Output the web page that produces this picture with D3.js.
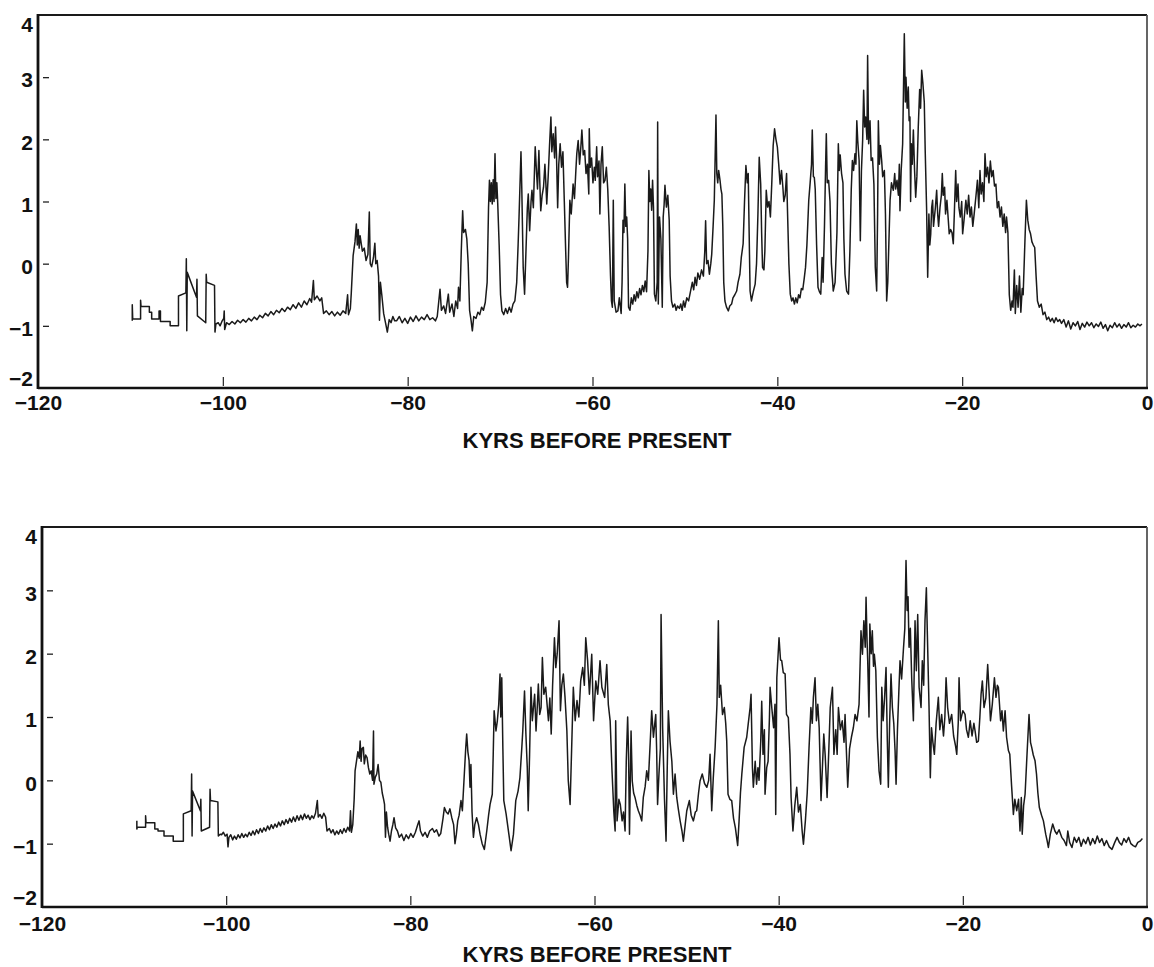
<!DOCTYPE html>
<html>
<head>
<meta charset="utf-8">
<script src="https://cdn.jsdelivr.net/npm/d3@7"></script>
<style>
  body { margin: 0; background: #fff; }
  svg { display: block; background: #fff; }
  .tick text, .axis-title {
    font-family: "Liberation Sans", Arial, Helvetica, sans-serif;
    font-weight: bold;
    fill: #111;
  }
</style>
</head>
<body>
<svg id="chart" width="1154" height="967"></svg>
<script>
// --- Data ---
const kyrTicks = [-120, -100, -80, -60, -40, -20, 0];
const valueTicks = [-2, -1, 0, 1, 2, 3, 4];
const axisTitle = "KYRS BEFORE PRESENT";

// upper record: [kyr, value]
const upperRecord = [
  [-109.8,-0.92],[-109.8,-0.66],[-109.75,-0.89],[-108.9,-0.89],[-108.9,-0.59],[-108.85,-0.69],[-107.95,-0.69],[-107.95,-0.78],[-107.7,-0.78],[-107.7,-0.89],[-106.9,-0.89],[-106.9,-0.76],[-106.75,-0.76],[-106.75,-0.93],[-105.7,-0.93],[-105.7,-1.0],[-104.8,-1.0],[-104.8,-0.52],[-104.0,-0.47],[-103.95,0.08],[-103.9,-1.08],[-103.85,-0.14],[-102.85,-0.54],[-102.8,-0.25],[-102.75,-0.84],[-101.85,-0.95],[-101.8,-0.17],[-101.75,-0.3],[-100.9,-0.35],[-100.85,-1.1],[-100.75,-0.97],
  [-100.5,-0.95],[-100.3,-1.0],[-100.1,-0.93],[-99.9,-0.88],[-99.85,-0.76],[-99.8,-1.06],[-99.6,-0.95],[-99.3,-0.98],[-99.0,-0.93],[-98.7,-0.97],[-98.4,-0.91],[-98.1,-0.95],[-97.8,-0.9],[-97.5,-0.94],[-97.2,-0.88],[-96.9,-0.92],[-96.6,-0.86],[-96.3,-0.9],[-96.0,-0.83],[-95.7,-0.87],[-95.4,-0.8],[-95.1,-0.84],[-94.8,-0.77],[-94.5,-0.82],[-94.2,-0.75],[-93.9,-0.79],[-93.6,-0.72],[-93.3,-0.77],[-93.0,-0.7],[-92.7,-0.74],[-92.4,-0.66],[-92.1,-0.72],[-91.8,-0.63],[-91.5,-0.7],[-91.2,-0.6],[-90.9,-0.66],[-90.6,-0.56],[-90.4,-0.62],[-90.2,-0.27],[-90.1,-0.58],[-89.8,-0.52],[-89.5,-0.6],[-89.3,-0.55],[-89.1,-0.8],[-88.8,-0.76],[-88.5,-0.82],[-88.2,-0.77],[-87.9,-0.84],[-87.6,-0.78],[-87.3,-0.83],[-87.0,-0.76],[-86.7,-0.8],[-86.5,-0.5],[-86.4,-0.82],[-86.2,-0.72],
  [-86.1,-0.47],[-85.9,0.13],[-85.7,0.35],[-85.55,0.64],[-85.45,0.3],[-85.35,0.55],[-85.25,0.25],[-85.15,0.45],[-85.0,0.3],[-84.9,0.2],[-84.7,0.25],[-84.5,0.05],[-84.3,0.15],[-84.15,0.83],[-84.05,0.0],[-83.9,-0.05],[-83.7,0.1],[-83.55,0.33],[-83.45,0.0],[-83.3,0.05],[-83.15,-0.2],[-83.05,-0.91],[-82.95,-0.3],[-82.8,-0.5],[-82.6,-0.8],[-82.4,-0.95],[-82.2,-1.1],[-82.0,-0.9],[-81.8,-0.95],[-81.6,-0.85],[-81.4,-0.92],
  [-81.2,-0.92],[-80.9,-0.85],[-80.6,-0.95],[-80.3,-0.88],[-80.0,-0.96],[-79.7,-0.86],[-79.4,-0.93],[-79.1,-0.84],[-78.8,-0.92],[-78.5,-0.86],[-78.2,-0.9],[-77.9,-0.82],[-77.6,-0.9],[-77.3,-0.87],[-77.0,-0.92],[-76.8,-0.85],
  [-76.5,-0.41],[-76.35,-0.75],[-76.1,-0.68],[-75.9,-0.8],[-75.6,-0.49],[-75.45,-0.78],[-75.2,-0.65],[-75.0,-0.85],[-74.8,-0.6],[-74.6,-0.72],[-74.5,-0.38],[-74.35,-0.6],
  [-74.2,0.2],[-74.05,0.85],[-73.95,0.5],[-73.75,0.55],[-73.6,0.4],[-73.45,0.0],[-73.3,-0.75],[-73.15,-0.9],[-73.0,-1.08],[-72.85,-0.85],
  [-72.6,-0.88],[-72.4,-0.78],[-72.2,-0.82],[-72.0,-0.7],[-71.8,-0.75],[-71.6,-0.62],
  [-71.4,-0.3],[-71.25,0.9],[-71.15,1.34],[-71.05,1.0],[-70.95,1.3],[-70.85,0.96],[-70.75,1.35],[-70.65,1.0],[-70.55,1.77],[-70.45,1.05],[-70.35,1.3],[-70.25,0.95],
  [-70.1,0.3],[-69.95,-0.5],[-69.8,-0.76],[-69.6,-0.82],[-69.4,-0.72],[-69.2,-0.8],[-69.0,-0.7],[-68.8,-0.78],[-68.6,-0.65],[-68.4,-0.6],
  [-68.2,-0.3],[-68.05,0.3],[-67.95,0.75],[-67.8,1.5],[-67.74,1.8],[-67.65,1.2],[-67.5,-0.06],[-67.35,-0.49],
  [-67.2,0.2],[-67.05,0.9],[-66.95,1.12],[-66.8,0.53],[-66.65,1.0],[-66.55,1.18],[-66.4,0.9],[-66.3,1.39],[-66.2,1.88],[-66.05,1.45],[-65.95,1.2],[-65.8,1.82],[-65.7,1.3],[-65.6,0.85],[-65.45,1.1],[-65.3,1.23],[-65.15,1.6],[-65.05,1.3],[-64.95,0.96],[-64.8,1.39],
  [-64.65,1.9],[-64.5,2.36],[-64.4,1.8],[-64.25,2.09],[-64.1,1.7],[-64.0,2.2],[-63.9,1.77],[-63.77,0.9],[-63.65,1.6],[-63.5,1.93],[-63.35,1.55],[-63.2,1.8],
  [-63.05,1.0],[-62.9,0.2],[-62.8,-0.3],[-62.7,-0.38],[-62.6,0.1],[-62.45,1.02],[-62.3,0.8],[-62.1,1.28],[-61.95,1.05],[-61.8,1.5],[-61.7,1.77],[-61.55,1.98],[-61.4,1.6],[-61.25,1.9],[-61.15,2.15],[-61.0,1.75],[-60.85,1.82],[-60.7,1.45],[-60.55,1.6],[-60.4,1.12],[-60.35,2.17],[-60.25,1.55],[-60.1,1.7],[-59.95,1.3],[-59.8,1.55],[-59.7,1.34],[-59.55,1.88],[-59.45,1.4],[-59.3,1.65],[-59.2,0.8],[-59.08,1.6],[-58.94,1.88],[-58.8,1.3],[-58.65,1.34],[-58.5,1.55],[-58.35,1.2],
  [-58.2,0.6],[-58.05,-0.2],[-57.95,-0.6],[-57.85,-0.7],[-57.75,1.02],[-57.65,-0.6],[-57.45,-0.78],[-57.25,-0.76],[-57.1,-0.55],
  [-56.9,-0.8],[-56.8,-0.3],[-56.7,0.7],[-56.6,0.5],[-56.5,1.28],[-56.4,0.6],[-56.3,0.75],[-56.2,0.4],[-56.1,-0.7],
  [-55.95,-0.75],[-55.8,-0.55],[-55.65,-0.65],[-55.5,-0.5],[-55.35,-0.6],[-55.2,-0.45],[-55.05,-0.55],[-54.9,-0.4],[-54.75,-0.5],[-54.6,-0.35],[-54.45,-0.45],[-54.3,-0.28],[-54.15,-0.45],
  [-54.0,0.2],[-53.9,1.5],[-53.8,1.0],[-53.7,1.2],[-53.6,0.86],[-53.5,1.34],[-53.4,0.9],[-53.3,-0.49],[-53.15,-0.6],[-53.0,-0.3],[-52.95,2.28],[-52.88,-0.65],[-52.75,0.75],[-52.6,0.4],[-52.45,-0.7],[-52.35,0.75],[-52.25,0.95],[-52.16,1.26],[-52.0,0.91],[-51.85,1.1],[-51.7,0.7],[-51.6,-0.2],[-51.45,-0.6],
  [-51.3,-0.7],[-51.1,-0.65],[-50.95,-0.75],[-50.8,-0.68],[-50.6,-0.72],[-50.45,-0.65],[-50.3,-0.75],[-50.15,-0.6],[-50.0,-0.7],[-49.8,-0.55],[-49.6,-0.6],
  [-49.4,-0.45],[-49.2,-0.3],[-49.05,-0.42],[-48.9,-0.22],[-48.75,-0.35],[-48.6,-0.15],[-48.4,-0.25],[-48.2,-0.1],[-48.0,-0.2],[-47.85,0.2],[-47.76,0.69],[-47.65,0.0],[-47.5,0.05],[-47.35,-0.17],[-47.2,0.0],[-47.1,0.15],
  [-46.95,0.6],[-46.82,1.02],[-46.64,2.39],[-46.55,1.45],[-46.45,1.3],[-46.35,1.5],[-46.2,1.34],[-46.1,1.2],[-46.0,1.12],[-45.9,0.6],[-45.8,-0.3],[-45.67,-0.6],[-45.5,-0.7],[-45.3,-0.76],[-45.15,-0.68],[-44.95,-0.65],[-44.8,-0.55],[-44.6,-0.5],[-44.4,-0.44],[-44.25,-0.3],[-44.05,-0.17],
  [-43.9,0.1],[-43.7,0.32],[-43.55,1.0],[-43.4,1.58],[-43.25,1.3],[-43.15,1.45],[-43.05,0.5],[-42.95,-0.44],[-42.8,-0.6],[-42.6,-0.45],[-42.4,-0.33],[-42.25,0.0],
  [-42.1,0.8],[-41.96,1.71],[-41.8,1.28],[-41.7,0.5],[-41.6,-0.06],[-41.45,-0.1],[-41.35,0.2],[-41.2,1.18],[-41.05,0.91],[-40.9,1.0],[-40.75,0.75],[-40.6,1.3],[-40.45,1.9],[-40.3,2.17],[-40.15,2.0],[-40.0,1.88],[-39.85,1.6],[-39.7,1.28],[-39.55,1.5],[-39.4,1.23],[-39.3,1.0],[-39.15,1.1],[-39.0,1.45],[-38.9,0.85],
  [-38.75,0.0],[-38.6,-0.49],[-38.45,-0.6],[-38.3,-0.55],[-38.15,-0.65],[-38.0,-0.55],[-37.85,-0.63],[-37.7,-0.5],[-37.55,-0.55],[-37.4,-0.4],[-37.25,-0.42],[-37.1,-0.25],[-36.95,-0.06],
  [-36.8,0.3],[-36.6,1.02],[-36.45,1.3],[-36.3,1.6],[-36.22,2.15],[-36.1,1.4],[-36.0,1.39],[-35.9,1.2],
  [-35.75,0.3],[-35.6,-0.38],[-35.45,-0.45],[-35.3,-0.49],[-35.15,0.1],[-35.05,-0.3],
  [-34.9,0.6],[-34.78,1.55],[-34.7,2.09],[-34.6,1.3],[-34.45,1.34],[-34.3,1.0],[-34.15,0.0],[-33.95,-0.44],[-33.75,-0.3],
  [-33.55,0.5],[-33.4,1.93],[-33.3,1.5],[-33.2,1.75],[-33.05,1.45],[-32.9,1.3],[-32.8,0.4],[-32.68,-0.17],[-32.5,-0.44],[-32.3,-0.49],
  [-32.15,0.2],[-32.0,1.2],[-31.88,1.66],[-31.75,1.5],[-31.6,1.77],[-31.5,1.6],[-31.4,2.3],[-31.3,1.98],[-31.15,1.66],[-31.02,0.37],
  [-30.9,1.5],[-30.77,1.98],[-30.66,2.79],[-30.55,2.2],[-30.44,2.36],[-30.3,2.0],[-30.23,3.35],[-30.12,1.93],[-29.97,2.3],[-29.85,1.66],
  [-29.7,1.7],[-29.55,1.28],[-29.4,-0.06],[-29.25,-0.44],
  [-29.15,0.8],[-29.07,2.3],[-28.95,1.6],[-28.85,1.9],[-28.71,1.66],[-28.6,1.4],[-28.42,1.5],
  [-28.3,0.8],[-28.17,-0.6],[-28.05,-0.3],
  [-27.9,0.5],[-27.8,1.02],[-27.65,1.3],[-27.45,1.18],[-27.3,1.45],[-27.2,1.2],[-27.05,1.34],[-26.9,1.1],[-26.8,1.6],[-26.73,0.85],
  [-26.6,1.5],[-26.44,1.93],[-26.35,2.8],[-26.26,3.7],[-26.15,2.6],[-26.08,3.0],[-25.95,2.5],[-25.83,2.84],[-25.74,2.3],[-25.65,2.36],[-25.58,1.0],[-25.5,1.93],[-25.4,1.6],[-25.28,2.15],[-25.15,1.5],[-25.03,1.07],
  [-24.9,1.4],[-24.75,2.2],[-24.6,2.8],[-24.5,2.5],[-24.38,3.11],[-24.25,2.9],[-24.1,2.6],[-24.0,1.82],[-23.85,0.9],[-23.73,-0.22],
  [-23.6,0.8],[-23.5,0.3],[-23.4,0.48],[-23.3,0.9],[-23.2,1.02],[-23.1,0.6],[-23.0,0.75],[-22.9,0.9],[-22.76,1.18],[-22.65,0.8],[-22.55,0.6],[-22.4,0.9],[-22.25,1.1],[-22.15,1.45],[-22.05,1.1],[-21.9,1.23],[-21.8,0.8],[-21.65,1.02],[-21.5,0.7],[-21.4,0.48],[-21.25,0.55],[-21.1,0.5],[-20.96,0.32],
  [-20.85,0.8],[-20.7,1.5],[-20.6,1.0],[-20.45,1.28],[-20.35,0.9],[-20.2,0.75],[-20.05,1.0],[-19.95,0.48],[-19.8,0.7],[-19.6,1.02],[-19.45,0.8],[-19.3,1.1],[-19.15,0.75],[-19.0,0.91],[-18.85,0.6],[-18.7,0.8],
  [-18.5,1.1],[-18.35,1.34],[-18.2,0.9],[-18.07,1.5],[-17.95,1.12],[-17.8,1.3],[-17.65,1.0],[-17.53,1.77],[-17.4,1.4],[-17.25,1.55],[-17.1,1.3],[-16.95,1.65],[-16.8,1.4],[-16.65,1.5],[-16.5,1.25],
  [-16.35,1.28],[-16.2,0.9],[-16.05,1.0],[-15.9,0.75],[-15.75,0.91],[-15.6,0.6],[-15.45,0.8],[-15.3,0.5],[-15.2,0.75],[-15.05,0.5],
  [-14.9,-0.5],[-14.75,-0.75],[-14.6,-0.6],[-14.5,-0.7],[-14.35,-0.1],[-14.25,-0.8],[-14.1,-0.35],[-13.95,-0.7],[-13.8,-0.2],[-13.65,-0.78],[-13.5,-0.4],[-13.4,-0.5],
  [-13.2,0.4],[-13.05,1.02],[-12.9,0.7],[-12.75,0.55],[-12.6,0.48],[-12.45,0.35],[-12.3,0.3],[-12.15,0.26],
  [-12.0,-0.2],[-11.85,-0.6],[-11.65,-0.7],[-11.45,-0.65],[-11.25,-0.82],[-11.05,-0.78],[-10.85,-0.9],[-10.65,-0.86],[-10.45,-0.93],[-10.25,-0.88],[-10.05,-0.95],[-9.85,-0.87],[-9.65,-0.93],[-9.45,-0.9],[-9.25,-0.96],
  [-9.0,-0.9],[-8.75,-1.02],[-8.5,-0.92],[-8.25,-1.05],[-8.0,-0.95],[-7.75,-1.0],[-7.5,-0.93],[-7.25,-1.06],[-7.0,-0.96],[-6.75,-1.02],[-6.5,-0.94],[-6.25,-1.0],[-6.0,-0.95],[-5.75,-1.03],[-5.5,-0.97],[-5.25,-1.01],[-5.0,-0.94],[-4.75,-1.04],[-4.5,-0.98],[-4.25,-1.08],[-4.0,-0.99],[-3.75,-1.03],[-3.5,-0.95],[-3.25,-1.02],[-3.0,-0.97],[-2.75,-1.04],[-2.5,-0.98],[-2.25,-1.02],[-2.0,-0.95],[-1.75,-1.03],[-1.5,-0.99],[-1.25,-1.02],[-1.0,-0.97],[-0.75,-1.0],[-0.55,-0.97]
];

// lower record: [kyr, value]
const lowerRecord = [
  [-109.7,-0.64],[-109.7,-0.77],[-109.65,-0.74],[-108.75,-0.74],[-108.75,-0.56],[-108.7,-0.67],[-107.75,-0.67],[-107.75,-0.77],[-107.4,-0.77],[-107.4,-0.8],[-106.75,-0.8],[-106.75,-0.88],[-105.75,-0.88],[-105.75,-0.96],[-104.65,-0.96],[-104.65,-0.53],[-103.8,-0.48],[-103.75,0.1],[-103.7,-0.88],[-103.65,-0.17],[-102.8,-0.48],[-102.75,-0.3],[-102.7,-0.8],[-101.8,-0.74],[-101.75,-0.14],[-101.7,-0.32],[-100.9,-0.34],[-100.85,-0.88],[-100.65,-0.85],
  [-100.5,-0.86],[-100.3,-0.82],[-100.1,-0.88],[-99.9,-0.85],[-99.8,-1.05],[-99.7,-0.9],[-99.5,-0.86],[-99.3,-0.94],[-99.1,-0.88],[-98.9,-0.93],[-98.7,-0.86],[-98.5,-0.91],[-98.3,-0.84],[-98.1,-0.9],[-97.9,-0.85],[-97.7,-0.89],[-97.5,-0.82],[-97.3,-0.87],[-97.1,-0.8],[-96.9,-0.86],[-96.7,-0.78],[-96.5,-0.84],[-96.3,-0.76],[-96.1,-0.82],[-95.9,-0.75],[-95.7,-0.8],[-95.5,-0.72],[-95.3,-0.78],[-95.1,-0.7],[-94.9,-0.76],[-94.7,-0.69],[-94.5,-0.74],[-94.3,-0.66],[-94.1,-0.72],[-93.9,-0.64],[-93.7,-0.7],[-93.5,-0.62],[-93.3,-0.68],[-93.1,-0.6],[-92.9,-0.66],[-92.7,-0.58],[-92.5,-0.65],[-92.3,-0.56],[-92.1,-0.63],[-91.9,-0.55],[-91.7,-0.62],[-91.5,-0.53],[-91.3,-0.6],[-91.1,-0.55],[-90.9,-0.62],[-90.7,-0.56],[-90.5,-0.6],[-90.3,-0.52],[-90.1,-0.32],[-90.0,-0.58],[-89.8,-0.54],[-89.6,-0.6],[-89.4,-0.52],[-89.2,-0.58],[-89.05,-0.8],[-88.8,-0.76],[-88.6,-0.83],[-88.4,-0.78],[-88.2,-0.86],[-88.0,-0.8],[-87.8,-0.85],[-87.6,-0.78],[-87.4,-0.84],[-87.2,-0.76],[-87.0,-0.82],[-86.8,-0.74],[-86.6,-0.8],[-86.5,-0.48],[-86.4,-0.82],[-86.25,-0.7],
  [-86.1,-0.3],[-86.0,0.15],[-85.85,0.3],[-85.7,0.45],[-85.55,0.35],[-85.45,0.62],[-85.35,0.3],[-85.25,0.5],[-85.1,0.52],[-85.0,0.26],[-84.85,0.4],[-84.7,0.36],[-84.55,0.2],[-84.4,0.1],[-84.25,0.15],[-84.1,0.0],[-84.0,0.78],[-83.95,-0.06],[-83.8,0.05],[-83.65,0.1],[-83.5,0.25],[-83.35,0.0],[-83.2,-0.03],[-83.05,-0.2],[-82.9,-0.3],[-82.8,-0.38],[-82.7,-0.9],[-82.6,-0.5],[-82.47,-0.74],[-82.35,-0.85],[-82.2,-0.96],[-82.05,-0.8],[-81.9,-0.7],[-81.77,-0.59],[-81.6,-0.75],[-81.4,-0.8],
  [-81.2,-0.9],[-80.95,-0.85],[-80.7,-0.95],[-80.45,-0.86],[-80.2,-0.92],[-79.95,-0.84],[-79.7,-0.9],[-79.45,-0.82],[-79.2,-0.7],[-79.05,-0.64],[-78.9,-0.8],[-78.65,-0.88],[-78.4,-0.82],[-78.15,-0.9],[-77.9,-0.8],[-77.6,-0.76],[-77.4,-0.82],[-77.15,-0.78],[-76.9,-0.88],[-76.7,-0.84],
  [-76.45,-0.6],[-76.3,-0.43],[-76.1,-0.5],[-75.9,-0.53],[-75.7,-0.45],[-75.5,-0.59],[-75.3,-0.7],[-75.15,-1.0],[-75.0,-0.85],[-74.85,-0.64],[-74.7,-0.55],[-74.5,-0.32],[-74.35,-0.48],
  [-74.1,0.2],[-73.98,0.52],[-73.88,0.73],[-73.75,0.45],[-73.62,0.31],[-73.52,-0.11],[-73.42,0.25],
  [-73.3,-0.5],[-73.15,-0.9],[-73.0,-0.7],[-72.8,-0.59],[-72.6,-0.7],[-72.43,-0.85],[-72.2,-1.0],[-71.96,-1.09],[-71.7,-0.8],[-71.5,-0.55],[-71.34,-0.38],[-71.1,-0.22],
  [-71.0,0.4],[-70.9,1.1],[-70.7,0.78],[-70.55,0.94],[-70.4,1.2],[-70.26,1.68],[-70.18,1.0],[-70.07,1.62],
  [-69.95,0.5],[-69.85,-0.32],[-69.6,-0.53],[-69.3,-0.85],[-69.06,-1.11],[-68.8,-0.85],[-68.55,-0.32],[-68.3,-0.17],[-68.1,0.04],
  [-67.9,0.5],[-67.79,0.78],[-67.6,1.41],[-67.45,0.73],[-67.3,0.2],[-67.2,-0.48],
  [-67.05,0.4],[-66.9,1.47],[-66.75,0.94],[-66.6,1.2],[-66.5,1.36],[-66.35,0.78],[-66.2,1.2],[-66.1,1.52],[-65.95,1.04],[-65.8,1.15],[-65.66,1.94],[-65.5,1.36],[-65.3,1.47],[-65.15,1.2],[-65.0,0.94],[-64.85,1.3],[-64.7,0.73],
  [-64.55,1.5],[-64.35,2.25],[-64.2,1.78],[-64.05,2.0],[-63.85,2.52],[-63.7,1.1],[-63.55,1.5],[-63.38,1.68],[-63.2,1.31],[-63.0,0.78],
  [-62.85,0.0],[-62.65,-0.38],[-62.5,0.41],[-62.3,1.47],[-62.1,0.94],[-61.9,1.26],[-61.7,1.0],[-61.5,1.57],[-61.28,1.78],[-61.1,1.5],[-60.95,2.25],[-60.75,1.89],[-60.55,1.36],[-60.3,1.99],[-60.1,0.94],[-59.86,1.57],[-59.65,1.36],[-59.4,1.89],[-59.2,1.47],[-58.9,1.31],[-58.67,1.83],
  [-58.5,1.2],[-58.3,0.94],[-58.1,0.15],[-57.9,-0.5],[-57.76,-0.8],
  [-57.7,0.94],[-57.55,-0.64],[-57.35,-0.3],[-57.2,-0.38],[-57.0,-0.64],[-56.85,-0.5],[-56.68,-0.8],[-56.55,0.3],[-56.4,1.0],[-56.3,0.41],[-56.2,-0.85],[-56.03,0.78],[-55.9,-0.01],[-55.75,-0.2],[-55.6,-0.27],[-55.4,-0.4],[-55.24,-0.48],[-55.05,-0.55],[-54.87,-0.64],[-54.7,-0.27],[-54.5,-0.1],[-54.33,0.15],[-54.15,0.0],
  [-53.95,0.6],[-53.79,1.1],[-53.6,0.68],[-53.45,0.9],[-53.35,1.04],[-53.25,0.47],[-53.15,-0.38],[-53.0,0.1],
  [-52.85,0.5],[-52.77,2.62],[-52.6,0.83],[-52.4,-0.3],[-52.23,-0.96],[-52.1,0.2],[-51.98,1.1],[-51.8,0.62],[-51.6,0.3],[-51.43,-0.22],[-51.25,0.1],[-51.07,-0.27],[-50.9,-0.45],[-50.7,-0.64],[-50.5,-0.8],[-50.35,-0.96],[-50.15,-0.7],[-49.98,-0.48],[-49.7,-0.32],[-49.5,-0.55],[-49.26,-0.64],[-49.05,-0.5],[-48.9,-0.48],[-48.7,-0.2],[-48.54,-0.01],[-48.3,0.1],[-48.05,-0.05],[-47.8,-0.11],[-47.6,0.0],[-47.45,0.41],[-47.27,-0.48],[-47.1,0.04],[-46.9,0.52],
  [-46.7,1.2],[-46.55,2.52],[-46.45,1.31],[-46.3,1.5],[-46.1,1.04],[-45.9,1.15],[-45.75,0.9],[-45.64,0.62],[-45.5,-0.22],[-45.3,-0.3],[-45.1,-0.32],[-44.9,-0.6],[-44.7,-0.75],[-44.45,-1.03],[-44.3,-0.64],[-44.15,-0.2],[-44.0,0.1],[-43.75,0.52],[-43.47,0.68],[-43.3,0.9],[-43.1,1.15],[-43.0,1.36],
  [-42.85,0.2],[-42.75,-0.11],[-42.55,0.3],[-42.4,-0.06],[-42.25,0.2],[-42.13,0.0],[-41.95,0.6],[-41.84,1.25],[-41.7,0.41],[-41.55,0.8],[-41.48,-0.22],[-41.3,0.2],[-41.15,0.3],[-41.0,1.0],[-40.93,1.47],[-40.75,1.15],[-40.55,0.83],[-40.4,1.2],[-40.32,-0.54],[-40.2,1.62],[-39.96,2.25],[-39.8,1.9],[-39.67,1.89],[-39.5,1.7],[-39.3,1.68],[-39.15,1.04],[-38.95,0.99],[-38.77,0.41],
  [-38.65,-0.27],[-38.45,-0.8],[-38.25,-0.4],[-38.04,-0.11],[-37.85,-0.5],[-37.65,-0.38],[-37.45,-0.8],[-37.31,-1.01],[-37.1,-0.64],[-36.9,-0.2],[-36.7,0.52],[-36.5,1.15],[-36.35,0.9],[-36.23,1.31],[-36.05,1.62],[-35.9,0.94],[-35.75,1.2],[-35.6,0.83],[-35.4,-0.32],[-35.25,0.2],[-35.1,0.73],[-34.95,0.4],[-34.74,-0.27],[-34.55,0.5],[-34.4,1.15],[-34.16,1.47],[-34.0,0.41],[-33.8,0.8],[-33.65,0.41],[-33.51,1.15],[-33.3,0.8],[-33.1,0.94],[-32.9,0.6],[-32.79,1.04],
  [-32.5,-0.11],[-32.3,0.5],[-32.1,0.68],[-31.89,0.83],[-31.7,1.04],[-31.5,0.94],[-31.27,1.2],[-31.06,2.36],[-30.9,1.99],[-30.75,2.52],[-30.6,2.1],[-30.51,2.89],[-30.4,2.2],[-30.33,1.89],[-30.19,1.0],[-30.1,2.47],[-29.95,2.0],[-29.83,2.36],[-29.7,1.8],[-29.61,1.99],[-29.45,1.73],[-29.28,0.68],[-29.1,0.15],[-28.92,-0.06],[-28.8,1.47],[-28.65,0.94],[-28.5,1.3],[-28.34,1.78],[-28.2,0.62],[-28.09,-0.11],[-27.95,0.9],[-27.8,1.68],[-27.65,1.15],[-27.5,0.9],[-27.36,0.47],[-27.25,-0.06],[-27.1,0.8],[-26.95,1.4],[-26.82,1.89],[-26.65,1.6],[-26.46,2.05],[-26.3,2.4],[-26.17,3.47],[-26.05,2.68],[-25.95,2.9],[-25.84,2.1],[-25.7,2.4],[-25.55,1.6],[-25.37,0.94],[-25.19,2.52],[-25.05,1.73],[-24.9,2.62],[-24.75,1.47],[-24.54,1.15],[-24.4,1.89],[-24.25,1.5],[-24.11,2.52],[-23.96,3.04],[-23.85,2.3],[-23.67,1.15],[-23.53,0.04],[-23.4,0.83],[-23.25,0.6],[-23.09,0.41],[-22.9,0.9],[-22.66,1.31],[-22.5,0.8],[-22.3,1.04],[-22.1,0.7],[-21.95,1.0],[-21.82,1.62],[-21.65,1.15],[-21.45,0.9],[-21.21,1.04],[-21.0,0.7],[-20.8,0.55],[-20.66,0.41],[-20.5,0.9],[-20.41,1.62],[-20.25,0.94],[-20.0,1.1],[-19.76,1.04],[-19.6,0.8],[-19.4,0.68],[-19.2,0.94],[-19.0,0.7],[-18.8,0.9],[-18.67,0.78],[-18.5,0.6],[-18.31,0.62],[-18.15,1.0],[-18.02,1.36],[-17.88,1.57],[-17.7,1.15],[-17.5,1.3],[-17.3,1.83],[-17.15,1.41],[-17.0,0.94],[-16.8,1.2],[-16.57,1.62],[-16.4,1.31],[-16.25,1.5],[-16.14,1.47],[-15.9,0.94],[-15.75,1.1],[-15.6,0.78],[-15.41,1.1],[-15.25,0.68],[-15.05,0.47],[-14.9,0.41],[-14.7,-0.1],[-14.51,-0.54],[-14.35,-0.3],[-14.15,-0.48],[-13.95,-0.3],[-13.79,-0.8],[-13.65,-0.27],[-13.55,-0.85],[-13.4,-0.4],[-13.24,-0.22],[-13.0,0.5],[-12.81,1.04],[-12.65,0.6],[-12.52,0.52],[-12.35,0.4],[-12.16,0.31],[-12.0,0.1],[-11.85,-0.2],[-11.69,-0.43],[-11.45,-0.55],[-11.25,-0.64],[-11.0,-0.85],[-10.85,-0.95],[-10.71,-1.06],[-10.5,-0.85],[-10.24,-0.69],[-10.0,-0.8],[-9.8,-0.85],[-9.55,-0.78],[-9.26,-0.9],
  [-9.0,-0.95],[-8.75,-1.03],[-8.6,-0.8],[-8.4,-0.98],[-8.15,-1.06],[-7.9,-0.9],[-7.65,-0.98],[-7.4,-0.9],[-7.15,-1.04],[-6.9,-0.93],[-6.65,-1.0],[-6.4,-0.9],[-6.15,-1.02],[-5.9,-0.92],[-5.65,-1.0],[-5.4,-0.88],[-5.15,-0.98],[-4.9,-0.92],[-4.65,-1.03],[-4.4,-0.95],[-4.1,-1.05],[-3.8,-1.09],[-3.5,-0.98],[-3.25,-0.9],[-3.0,-0.98],[-2.75,-1.02],[-2.5,-0.92],[-2.25,-0.98],[-2.0,-0.9],[-1.75,-1.0],[-1.5,-1.03],[-1.25,-1.05],[-1.0,-0.98],[-0.75,-0.96],[-0.5,-0.92]
];

// --- Layout ---
const svg = d3.select("#chart");
const panels = [
  { data: upperRecord, left: 38, right: 1147, top: 15, bottom: 388, labelPad: 7, titleY: 448 },
  { data: lowerRecord, left: 42, right: 1147, top: 527, bottom: 907, labelPad: 9, titleY: 962 }
];
const intFormat = d3.format("d");

function drawPanel(p) {
  const x = d3.scaleLinear().domain([-120, 0]).range([p.left, p.right]);
  const y = d3.scaleLinear().domain([-2, 4]).range([p.bottom, p.top]);
  const g = svg.append("g");

  // the record itself
  const line = d3.line().x(d => x(d[0])).y(d => y(d[1]));
  g.append("path")
    .datum(p.data)
    .attr("d", line)
    .attr("fill", "none")
    .attr("stroke", "#1a1a1a")
    .attr("stroke-width", 1.5)
    .attr("stroke-linejoin", "round");

  // bottom axis, inward ticks
  const xAxis = g.append("g")
    .attr("transform", `translate(0,${p.bottom})`)
    .call(d3.axisBottom(x).tickValues(kyrTicks).tickFormat(intFormat)
      .tickSizeInner(-9).tickSizeOuter(0).tickPadding(p.labelPad));
  xAxis.select(".domain").remove();
  xAxis.selectAll(".tick line").attr("y1", -2).attr("y2", -11).attr("stroke", "#222").attr("stroke-width", 1.2);
  xAxis.selectAll(".tick").filter(d => d === -120 || d === 0).select("line").remove();
  xAxis.selectAll(".tick text").style("font-size", "21px");

  // left axis, short inward ticks
  const yAxis = g.append("g")
    .attr("transform", `translate(${p.left},0)`)
    .call(d3.axisLeft(y).tickValues(valueTicks).tickFormat(intFormat)
      .tickSizeInner(-10).tickSizeOuter(0).tickPadding(5));
  yAxis.select(".domain").remove();
  yAxis.selectAll(".tick line").attr("x1", 5).attr("x2", 11).attr("stroke", "#222").attr("stroke-width", 1.3);
  yAxis.selectAll(".tick").filter(d => d === 4 || d === -2).select("line").remove();
  yAxis.selectAll(".tick text")
    .style("font-size", "21px")
    .attr("y", d => d === 4 ? 10 : d === -2 ? -9 : 3);

  // frame
  g.append("line").attr("x1", p.left).attr("x2", p.right).attr("y1", p.top).attr("y2", p.top)
    .attr("stroke", "#1a1a1a").attr("stroke-width", 2.2);
  g.append("line").attr("x1", p.right).attr("x2", p.right).attr("y1", p.top).attr("y2", p.bottom)
    .attr("stroke", "#555").attr("stroke-width", 1.8);
  g.append("line").attr("x1", p.left).attr("x2", p.left).attr("y1", p.top - 1).attr("y2", p.bottom + 1)
    .attr("stroke", "#111").attr("stroke-width", 2.8);
  g.append("line").attr("x1", p.left).attr("x2", p.right + 1).attr("y1", p.bottom).attr("y2", p.bottom)
    .attr("stroke", "#111").attr("stroke-width", 2.6);

  // axis title
  g.append("text")
    .attr("class", "axis-title")
    .attr("x", 597)
    .attr("y", p.titleY)
    .attr("text-anchor", "middle")
    .style("font-size", "22px")
    .text(axisTitle);
}

panels.forEach(drawPanel);
</script>
</body>
</html>
